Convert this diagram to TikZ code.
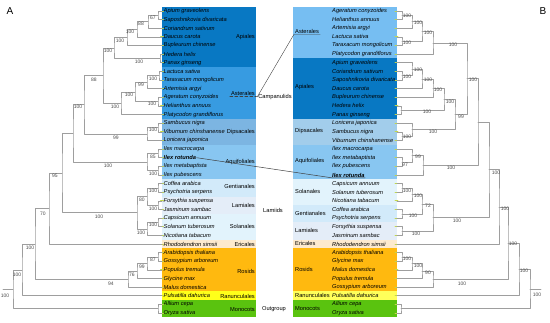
\documentclass[tikz,border=0pt]{standalone}
\usepackage{fontspec}
\setmainfont{Liberation Sans}
\usetikzlibrary{calc,positioning}

\definecolor{apiales}{HTML}{0878C3}
\definecolor{asteralesA}{HTML}{379BE1}
\definecolor{asteralesB}{HTML}{76BEF2}
\definecolor{dipsacalesA}{HTML}{7CB5E2}
\definecolor{dipsacalesB}{HTML}{A2CDEB}
\definecolor{aquifoliales}{HTML}{88C6F1}
\definecolor{gentianales}{HTML}{D2EAFA}
\definecolor{lamiales}{HTML}{E4EDF8}
\definecolor{solanales}{HTML}{E2F3FC}
\definecolor{ericales}{HTML}{FDEACE}
\definecolor{rosids}{HTML}{FFB90F}
\definecolor{ranunculalesA}{HTML}{FFFF1A}
\definecolor{ranunculalesB}{HTML}{FFFF5A}
\definecolor{monocots}{HTML}{5AC30F}
\definecolor{tipgreen}{HTML}{C5D84A}

% row centre, in px from the top
\pgfmathdeclarefunction{ry}{1}{\pgfmathparse{11+8.63*(#1-1)}}

% clade: name, x, first child, second child
\newcommand\clade[4]{%
  \coordinate (#1) at ($(#3)!.5!(#4)$);
  \coordinate (#1) at (#2,0 |- #1);
  \draw[branch] (#3) -| (#1) |- (#4);}

% coloured band: x0, x1, first row, last row, colour
\newcommand\band[5]{\fill[#5] (#1,{ry(#3)-4.315}) rectangle (#2,{ry(#4)+4.315});}

\begin{document}
\begin{tikzpicture}[x=1pt, y=-1pt, line join=round, line cap=round,
  branch/.style={draw=black!38, line width=0.6pt},
  tipmark/.style={draw=tipgreen, line width=0.9pt},
  sp/.style={inner sep=0.5pt, font=\fontsize{5.7}{6}\selectfont\itshape},
  ord/.style={inner sep=1pt, font=\fontsize{5.7}{6}\selectfont},
  bs/.style={inner sep=0pt, text=black!70, font=\fontsize{5}{5}\selectfont},
  panel/.style={font=\fontsize{10}{10}\selectfont}]
  \useasboundingbox (0,0) rectangle (550,322);

  % bands
  \foreach \a/\b/\c in {1/7/apiales, 8/13/asteralesA, 14/16/dipsacalesA, 17/20/aquifoliales,
      21/22/gentianales, 23/24/lamiales, 25/27/solanales, 28/28/ericales, 29/33/rosids,
      34/34/ranunculalesA, 35/36/monocots}
    \band{162}{256}{\a}{\b}{\c};
  \foreach \a/\b/\c in {1/6/asteralesB, 7/13/apiales, 14/16/dipsacalesB, 17/20/aquifoliales,
      21/23/solanales, 24/25/gentianales, 26/27/lamiales, 28/28/ericales, 29/33/rosids,
      34/34/ranunculalesB, 35/36/monocots}
    \band{293}{397}{\a}{\b}{\c};

  % species, panel A
  \foreach \sp [count=\r] in {Apium graveolens, Saposhnikovia divaricata, Coriandrum sativum,
      Daucus carota, Bupleurum chinense, Hedera helix, Panax ginseng, Lactuca sativa,
      Taraxacum mongolicum, Artemisia argyi, Ageratum conyzoides, Helianthus annuus,
      Platycodon grandiflorus, Sambucus nigra, Viburnum chinshanense, Lonicera japonica,
      Ilex macrocarpa, {\bfseries Ilex rotunda}, Ilex metabaptista, Ilex pubescens,
      Coffea arabica, Psychotria serpens, Forsythia suspensa, Jasminum sambac,
      Capsicum annuum, Solanum tuberosum, Nicotiana tabacum, Rhododendron simsii,
      Arabidopsis thaliana, Gossypium arboreum, Populus tremula, Glycine max,
      Malus domestica, Pulsatilla dahurica, Allium cepa, Oryza sativa}{
    \coordinate (ta\r) at (162,{ry(\r)});
    \node[sp, right=1pt of ta\r] (sa\r) {\sp};
    \draw[tipmark] ($(ta\r)+(-1.5,0)$) -- ++(3,0);
  }

  % species, panel B
  \foreach \sp [count=\r] in {Ageratum conyzoides, Helianthus annuus, Artemisia argyi,
      Lactuca sativa, Taraxacum mongolicum, Platycodon grandiflorus, Apium graveolens,
      Coriandrum sativum, Saposhnikovia divaricata, Daucus carota, Bupleurum chinense,
      Hedera helix, Panax ginseng, Lonicera japonica, Sambucus nigra, Viburnum chinshanense,
      Ilex macrocarpa, Ilex metabaptista, Ilex pubescens, {\bfseries Ilex rotunda},
      Capsicum annuum, Solanum tuberosum, Nicotiana tabacum, Coffea arabica,
      Psychotria serpens, Forsythia suspensa, Jasminum sambac, Rhododendron simsii,
      Arabidopsis thaliana, Glycine max, Malus domestica, Populus tremula,
      Gossypium arboreum, Pulsatilla dahurica, Allium cepa, Oryza sativa}{
    \coordinate (tb\r) at (397,{ry(\r)});
    \node[sp, anchor=west] (sb\r) at (331.5,{ry(\r)}) {\sp};
    \draw[tipmark] ($(tb\r)+(-2,0)$) -- ++(3,0);
  }

  % orders
  \foreach \t/\y [count=\i] in {Apiales/36.7, Asterales/93, Dipsacales/131.7, Aquifoliales/161.7,
      Gentianales/186.7, Lamiales/205, Solanales/226.7, Ericales/244.3, Rosids/271,
      Ranunculales/296, Monocots/310}
    \node[ord, anchor=east] (oa\i) at (256,\y) {\t};
  \foreach \t/\y [count=\i] in {Asterales/31, Apiales/87, Dipsacales/131, Aquifoliales/161,
      Solanales/191, Gentianales/213, Lamiales/230, Ericales/243, Rosids/269,
      Ranunculales/295, Monocots/309}
    \node[ord, anchor=west] (ob\i) at (294,\y) {\t};

  \node[ord] (camp) at (275,97) {Campanulids};
  \node[ord] (lami) at (273,210) {Lamiids};
  \node[ord] (outg) at (274,309) {Outgroup};
  \node[panel] (pa) at (10,11) {A};
  \node[panel] (pb) at (543,11) {B};

  % links between the panels
  \draw[black!75, line width=0.4pt, densely dashed] (oa2.south west) -- (oa2.south east);
  \draw[black!75, line width=0.4pt] (oa2.south east) -- (camp.west) -- (ob1.south west) -- (ob1.south east);
  \draw[black!75, line width=0.5pt] (sa18.east) -- (sb20.south west) -- (sb20.south east);

  % tree A
  \clade{Aapi1}{158}{ta1}{ta2}
  \clade{Aapi2}{148}{Aapi1}{ta3}
  \clade{Aapi3}{137}{Aapi2}{ta4}
  \clade{Aapi4}{127}{Aapi3}{ta5}
  \clade{Aapi5}{160}{ta6}{ta7}
  \clade{Aapi6}{114}{Aapi4}{Aapi5}
  \clade{Aast1}{159}{ta8}{ta9}
  \clade{Aast2}{147}{Aast1}{ta10}
  \clade{Aast3}{158}{ta11}{ta12}
  \clade{Aast4}{135}{Aast2}{Aast3}
  \clade{Aast5}{121}{Aast4}{ta13}
  \clade{Acamp}{103}{Aapi6}{Aast5}
  \clade{Adip1}{158}{ta14}{ta15}
  \clade{Adip2}{147}{Adip1}{ta16}
  \clade{Acd}{84}{Acamp}{Adip2}
  \clade{Aaqu1}{158}{ta17}{ta18}
  \clade{Aaqu2}{158}{ta19}{ta20}
  \clade{Aaqu3}{147}{Aaqu1}{Aaqu2}
  \clade{Acaq}{73}{Acd}{Aaqu3}
  \clade{Agen}{158}{ta21}{ta22}
  \clade{Alam}{158}{ta23}{ta24}
  \clade{Agl}{147}{Agen}{Alam}
  \clade{Asol1}{158}{ta25}{ta26}
  \clade{Asol2}{147}{Asol1}{ta27}
  \clade{Alamiids}{137}{Agl}{Asol2}
  \clade{Aasterids}{62}{Acaq}{Alamiids}
  \clade{Aeri}{49}{Aasterids}{ta28}
  \clade{Aros1}{158}{ta29}{ta30}
  \clade{Aros2}{147}{Aros1}{ta31}
  \clade{Aros3}{137}{Aros2}{ta32}
  \clade{Aros4}{128}{Aros3}{ta33}
  \clade{Acore}{35}{Aeri}{Aros4}
  \clade{Aeud}{22}{Acore}{ta34}
  \clade{Amon}{158}{ta35}{ta36}
  \clade{Aroot}{13}{Aeud}{Amon}
  \coordinate (Astub) at (3,0 |- Aroot);
  \draw[branch] (Aroot) -- (Astub);

  % tree B
  \clade{Bast1}{402}{tb1}{tb2}
  \clade{Bast2}{412}{Bast1}{tb3}
  \clade{Bast3}{402}{tb4}{tb5}
  \clade{Bast4}{422}{Bast2}{Bast3}
  \clade{Bast5}{433}{Bast4}{tb6}
  \clade{Bapi1}{402}{tb8}{tb9}
  \clade{Bapi2}{412}{tb7}{Bapi1}
  \clade{Bapi3}{422}{Bapi2}{tb10}
  \clade{Bapi4}{433}{Bapi3}{tb11}
  \clade{Bapi5}{401}{tb12}{tb13}
  \clade{Bapi6}{444}{Bapi4}{Bapi5}
  \clade{Bdip1}{402}{tb15}{tb16}
  \clade{Bdip2}{412}{tb14}{Bdip1}
  \clade{Bapd}{455}{Bapi6}{Bdip2}
  \clade{Bcamp}{467}{Bast5}{Bapd}
  \clade{Baqu1}{402}{tb18}{tb19}
  \clade{Baqu2}{412}{tb17}{Baqu1}
  \clade{Baqu3}{423}{Baqu2}{tb20}
  \clade{Bcaq}{478}{Bcamp}{Baqu3}
  \clade{Bsol1}{402}{tb21}{tb22}
  \clade{Bsol2}{412}{Bsol1}{tb23}
  \clade{Bgen}{402}{tb24}{tb25}
  \clade{Blam1}{422}{Bsol2}{Bgen}
  \clade{Blami}{402}{tb26}{tb27}
  \clade{Blam2}{433}{Blam1}{Blami}
  \clade{Basterids}{489}{Bcaq}{Blam2}
  \clade{Beri}{499}{Basterids}{tb28}
  \clade{Bros1}{402}{tb29}{tb30}
  \clade{Bros2}{412}{Bros1}{tb31}
  \clade{Bros3}{422}{Bros2}{tb32}
  \clade{Bros4}{433}{Bros3}{tb33}
  \clade{Bcore}{508}{Beri}{Bros4}
  \clade{Beud}{519}{Bcore}{tb34}
  \clade{Bmon}{401}{tb35}{tb36}
  \clade{Broot}{530}{Beud}{Bmon}
  \coordinate (Bstub) at (541,0 |- Broot);
  \draw[branch] (Broot) -- (Bstub);

  % bootstrap values
  \foreach \x/\y/\t in {153/18/67, 141/24/88, 130/32/100, 120/41/100, 139/62/100, 108/51/100,
      153/79/100, 141/85/99, 152/104/100, 129/95/100, 115/107/100, 94/80/88, 153/130/100,
      116/138/99, 78/107/100, 153/157/85, 153/174/100, 108/166/100, 153/191/100, 153/209/100,
      142/200/80, 153/225/100, 141/233/100, 99/217/100, 55/176/95, 43/214/70, 153/260/87,
      142/267/99, 132/275/76, 111/284/94, 30/248/100, 17/275/100, 5/296/100,
      407/16/100, 418/23/100, 407/43/100, 428/33/100, 453/45/100, 407/77/100, 418/70/100,
      428/80/100, 438/90/100, 427/112/100, 450/102/100, 407/137/100, 433/132/100, 461/117/99,
      473/80/100, 405/165/97, 418/157/99, 451/168/100, 407/191/100, 418/196/100, 413/216/100,
      428/206/72, 416/234/100, 457/221/100, 496/173/100, 505/209/100, 407/259/100,
      418/266/100, 428/273/90, 462/284/100, 513/244/100, 524/271/100, 537/295/100}
    \node[bs] at (\x,\y) {\t};
\end{tikzpicture}
\end{document}
